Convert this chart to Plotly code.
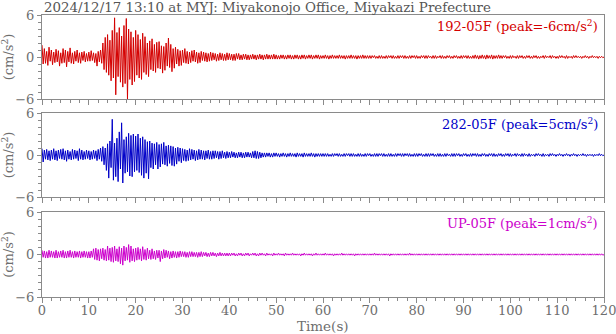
import numpy as np
import plotly.graph_objects as go

# Strong-motion record, MYJ station, 2024/12/17 13:10
# Acceleration (cm/s^2) sampled as alternating extrema every DT seconds
DT = 0.25

acc_192 = [
    1.7,-1.0,1.2,-0.9, 0.8,-1.2,1.4,-0.6, 1.0,-1.1,0.7,-0.8, 1.1,-0.7,0.9,-1.3, 0.6,-0.9,1.2,-0.8,
    1.0,-1.4,0.8,-0.7, 1.3,-0.9,0.6,-1.0, 0.8,-0.6,1.0,-0.8, 0.6,-0.9,0.7,-0.5, 0.8,-0.7,0.5,-0.6,
    0.7,-0.6,0.9,-0.5, 0.6,-0.8,0.5,-1.3, 0.8,-0.7,1.0,-0.9, 2.0,-1.8,2.8,-2.2, 3.2,-2.6,2.4,-3.4,
    3.8,-3.0,5.6,-5.4, 3.5,-2.8,4.2,-3.6, 3.0,-4.3,4.5,-3.8, 5.5,-6.0,4.0,-3.2, 3.6,-4.0,2.8,-3.5,
    3.8,-2.6,3.2,-3.0, 2.5,-3.2,3.4,-2.2, 2.9,-2.5,2.0,-2.8, 2.3,-1.8,2.6,-2.0, 1.8,-2.2,2.1,-1.6,
    2.2,-1.7,1.6,-2.3, 1.5,-1.9,2.0,-1.3, 2.7,-1.5,1.8,-2.1, 1.2,-1.6,1.4,-1.0, 1.1,-1.3,0.9,-1.2,
    1.0,-0.8,1.2,-0.9, 0.8,-1.0,0.7,-0.8, 0.9,-0.6,1.0,-0.7, 0.7,-0.9,0.6,-0.8, 0.8,-0.5,0.7,-0.6,
    0.6,-0.7,0.5,-0.6, 0.7,-0.5,0.6,-0.4, 0.5,-0.6,0.4,-0.5, 0.6,-0.4,0.5,-0.5, 0.4,-0.5,0.6,-0.4,
    0.5,-0.4,0.4,-0.5, 0.4,-0.5,0.5,-0.3, 0.5,-0.4,0.3,-0.4, 0.4,-0.3,0.4,-0.4, 0.3,-0.4,0.3,-0.3,
    0.4,-0.3,0.3,-0.4, 0.3,-0.3,0.4,-0.3, 0.3,-0.4,0.3,-0.3, 0.4,-0.3,0.3,-0.3, 0.3,-0.3,0.4,-0.3,
    0.3,-0.3,0.2,-0.3, 0.3,-0.2,0.3,-0.3, 0.2,-0.3,0.3,-0.2, 0.3,-0.3,0.2,-0.3, 0.3,-0.2,0.3,-0.3,
    0.2,-0.3,0.3,-0.2, 0.3,-0.3,0.2,-0.2, 0.3,-0.2,0.3,-0.3, 0.2,-0.2,0.3,-0.2, 0.3,-0.3,0.2,-0.2,
    0.2,-0.2,0.3,-0.2, 0.2,-0.3,0.2,-0.2, 0.3,-0.2,0.2,-0.2, 0.2,-0.2,0.3,-0.2, 0.2,-0.2,0.2,-0.3,
    0.2,-0.2,0.2,-0.2, 0.3,-0.2,0.2,-0.2, 0.2,-0.3,0.2,-0.2, 0.2,-0.2,0.3,-0.2, 0.2,-0.2,0.2,-0.2,
    0.2,-0.2,0.2,-0.1, 0.2,-0.2,0.1,-0.2, 0.2,-0.2,0.2,-0.2, 0.1,-0.2,0.2,-0.2, 0.2,-0.1,0.2,-0.2,
    0.2,-0.2,0.1,-0.2, 0.2,-0.2,0.2,-0.1, 0.2,-0.2,0.2,-0.2, 0.1,-0.2,0.2,-0.2, 0.2,-0.1,0.2,-0.2,
    0.2,-0.2,0.1,-0.2, 0.2,-0.1,0.2,-0.2, 0.2,-0.2,0.2,-0.1, 0.1,-0.2,0.2,-0.2, 0.2,-0.2,0.1,-0.1,
    0.2,-0.2,0.2,-0.2, 0.1,-0.2,0.2,-0.1, 0.2,-0.2,0.1,-0.2, 0.2,-0.1,0.2,-0.2, 0.1,-0.2,0.2,-0.2,
    0.2,-0.1,0.2,-0.2, 0.2,-0.2,0.1,-0.2, 0.2,-0.2,0.3,-0.2, 0.2,-0.3,0.2,-0.2, 0.3,-0.2,0.2,-0.3,
    0.3,-0.2,0.2,-0.2, 0.3,-0.3,0.2,-0.2, 0.2,-0.2,0.3,-0.2, 0.2,-0.2,0.2,-0.1, 0.2,-0.2,0.1,-0.2,
    0.2,-0.2,0.2,-0.1, 0.1,-0.2,0.2,-0.2, 0.2,-0.1,0.2,-0.2, 0.1,-0.2,0.2,-0.1, 0.2,-0.2,0.1,-0.2,
    0.2,-0.1,0.2,-0.2, 0.1,-0.2,0.1,-0.1, 0.2,-0.2,0.2,-0.1, 0.1,-0.1,0.2,-0.2, 0.2,-0.1,0.1,-0.2,
    0.1,-0.2,0.2,-0.1, 0.2,-0.1,0.1,-0.2, 0.2,-0.2,0.1,-0.1, 0.1,-0.2,0.2,-0.1, 0.2,-0.1,0.1,-0.1,
    0.1,-0.2,0.1,-0.1, 0.2,-0.1,0.1,-0.2, 0.1,-0.1,0.2,-0.1, 0.1,-0.1,0.1,-0.2, 0.1,-0.1,0.1,-0.1,
    0.0,
]

acc_282 = [
    0.9,-1.0,0.7,-0.6, 0.8,-0.7,0.6,-0.8, 0.7,-0.6,0.9,-0.7, 0.6,-0.8,0.7,-0.5, 0.8,-0.6,0.9,-0.7,
    0.6,-0.9,0.7,-0.6, 0.5,-0.7,0.8,-0.6, 0.7,-0.5,0.6,-0.8, 0.9,-0.6,0.7,-0.7, 0.5,-0.6,0.7,-0.5,
    0.6,-0.7,0.5,-0.6, 0.7,-0.5,0.6,-0.8, 0.8,-0.6,1.0,-0.9, 1.2,-1.4,1.0,-2.2, 1.6,-3.3,2.0,-1.8,
    5.1,-3.6,1.7,-3.1, 2.4,-3.8,3.3,-2.0, 4.6,-4.0,2.2,-2.6, 2.6,-2.4,3.1,-3.0, 2.8,-3.1,3.0,-2.4,
    2.7,-2.2,3.0,-2.5, 2.4,-2.9,2.6,-3.3, 2.2,-2.6,1.9,-3.4, 2.0,-1.8,1.7,-2.0, 1.6,-1.4,1.8,-2.0,
    1.5,-1.7,1.6,-1.3, 1.8,-1.4,1.3,-1.6, 1.4,-1.2,1.3,-1.5, 1.2,-1.6,1.0,-1.3, 1.1,-0.9,1.0,-1.1,
    0.9,-0.8,0.8,-0.9, 0.7,-0.8,0.9,-0.7, 0.8,-0.6,0.7,-0.8, 0.6,-0.7,0.8,-0.6, 0.7,-0.6,0.6,-0.7,
    0.6,-0.5,0.7,-0.6, 0.5,-0.6,0.6,-0.5, 0.6,-0.4,0.5,-0.6, 0.5,-0.5,0.6,-0.4, 0.4,-0.5,0.5,-0.4,
    0.4,-0.4,0.5,-0.3, 0.4,-0.4,0.3,-0.4, 0.4,-0.3,0.4,-0.4, 0.3,-0.4,0.4,-0.3, 0.4,-0.3,0.3,-0.4,
    0.5,-0.4,0.6,-0.5, 0.5,-0.5,0.4,-0.4, 0.3,-0.3,0.3,-0.3, 0.3,-0.2,0.3,-0.3, 0.2,-0.3,0.3,-0.2,
    0.3,-0.2,0.2,-0.3, 0.2,-0.2,0.3,-0.2, 0.2,-0.3,0.2,-0.2, 0.3,-0.2,0.2,-0.2, 0.2,-0.3,0.3,-0.2,
    0.2,-0.2,0.2,-0.3, 0.3,-0.2,0.2,-0.2, 0.2,-0.2,0.3,-0.2, 0.2,-0.3,0.2,-0.2, 0.2,-0.2,0.2,-0.2,
    0.2,-0.2,0.2,-0.2, 0.2,-0.2,0.1,-0.2, 0.2,-0.2,0.2,-0.1, 0.2,-0.2,0.2,-0.2, 0.1,-0.2,0.2,-0.2,
    0.2,-0.1,0.2,-0.2, 0.2,-0.2,0.2,-0.2, 0.1,-0.2,0.2,-0.2, 0.2,-0.2,0.1,-0.2, 0.2,-0.2,0.2,-0.1,
    0.2,-0.2,0.1,-0.2, 0.2,-0.2,0.2,-0.2, 0.2,-0.1,0.2,-0.2, 0.2,-0.2,0.1,-0.2, 0.2,-0.2,0.2,-0.2,
    0.1,-0.2,0.2,-0.2, 0.2,-0.1,0.2,-0.2, 0.2,-0.2,0.2,-0.1, 0.2,-0.2,0.2,-0.2, 0.1,-0.2,0.2,-0.2,
    0.2,-0.2,0.2,-0.1, 0.2,-0.2,0.1,-0.2, 0.2,-0.2,0.2,-0.2, 0.2,-0.1,0.2,-0.2, 0.1,-0.2,0.2,-0.2,
    0.2,-0.2,0.1,-0.2, 0.2,-0.2,0.2,-0.1, 0.1,-0.2,0.2,-0.2, 0.2,-0.2,0.2,-0.1, 0.2,-0.2,0.1,-0.2,
    0.2,-0.1,0.2,-0.2, 0.1,-0.2,0.2,-0.2, 0.2,-0.1,0.2,-0.2, 0.2,-0.2,0.1,-0.2, 0.2,-0.1,0.2,-0.2,
    0.1,-0.2,0.2,-0.1, 0.2,-0.2,0.2,-0.2, 0.1,-0.2,0.2,-0.1, 0.2,-0.2,0.1,-0.2, 0.2,-0.1,0.2,-0.2,
    0.2,-0.2,0.1,-0.1, 0.2,-0.2,0.2,-0.1, 0.1,-0.2,0.2,-0.2, 0.2,-0.1,0.1,-0.2, 0.2,-0.2,0.1,-0.1,
    0.1,-0.2,0.2,-0.1, 0.2,-0.1,0.1,-0.2, 0.2,-0.2,0.1,-0.1, 0.1,-0.2,0.2,-0.1, 0.2,-0.1,0.1,-0.2,
    0.1,-0.1,0.2,-0.1, 0.1,-0.2,0.1,-0.1, 0.2,-0.1,0.1,-0.2, 0.1,-0.1,0.2,-0.1, 0.1,-0.2,0.1,-0.1,
    0.1,-0.1,0.2,-0.1, 0.1,-0.2,0.1,-0.1, 0.1,-0.1,0.1,-0.2, 0.1,-0.1,0.1,-0.1, 0.2,-0.1,0.1,-0.1,
    0.0,
]

acc_up = [
    0.6,-0.4,0.5,-0.5, 0.4,-0.5,0.6,-0.4, 0.5,-0.4,0.4,-0.5, 0.6,-0.5,0.4,-0.4, 0.5,-0.4,0.6,-0.5,
    0.4,-0.5,0.5,-0.4, 0.6,-0.4,0.4,-0.5, 0.5,-0.4,0.4,-0.4, 0.5,-0.5,0.4,-0.4, 0.5,-0.4,0.4,-0.5,
    0.4,-0.5,0.5,-0.4, 0.8,-0.7,0.9,-0.8, 0.7,-0.9,0.8,-0.6, 0.9,-0.8,0.7,-0.9, 1.2,-0.8,0.9,-1.0,
    1.0,-1.1,1.2,-0.9, 0.8,-1.0,1.1,-1.3, 0.9,-1.5,1.2,-0.9, 1.0,-0.8,1.4,-1.1, 1.2,-0.9,0.8,-1.0,
    0.9,-0.8,1.0,-0.7, 0.8,-0.9,1.1,-0.7, 0.7,-0.8,0.9,-0.6, 0.6,-0.7,0.8,-0.6, 0.5,-0.7,0.6,-0.5,
    0.6,-1.0,0.5,-0.6, 0.7,-0.5,0.6,-0.4, 0.5,-0.6,0.4,-0.5, 0.5,-0.4,0.4,-0.5, 0.4,-0.4,0.5,-0.3,
    0.4,-0.3,0.4,-0.4, 0.3,-0.4,0.4,-0.3, 0.4,-0.3,0.3,-0.3, 0.3,-0.4,0.3,-0.3, 0.4,-0.3,0.3,-0.2,
    0.3,-0.3,0.2,-0.3, 0.3,-0.2,0.3,-0.2, 0.2,-0.3,0.2,-0.2, 0.3,-0.2,0.2,-0.2, 0.2,-0.2,0.2,-0.2,
    0.2,-0.2,0.2,-0.1, 0.2,-0.2,0.1,-0.2, 0.2,-0.1,0.2,-0.2, 0.1,-0.2,0.2,-0.1, 0.2,-0.2,0.1,-0.1,
    0.2,-0.1,0.2,-0.2, 0.1,-0.2,0.2,-0.1, 0.2,-0.1,0.1,-0.2, 0.2,-0.1,0.1,-0.1, 0.1,-0.2,0.2,-0.1,
    0.1,-0.1,0.2,-0.1, 0.1,-0.1,0.1,-0.2, 0.2,-0.1,0.1,-0.1, 0.1,-0.1,0.2,-0.1, 0.1,-0.1,0.1,-0.1,
    0.1,-0.2,0.1,-0.1, 0.2,-0.1,0.1,-0.1, 0.1,-0.1,0.1,-0.2, 0.1,-0.1,0.2,-0.1, 0.1,-0.1,0.1,-0.1,
    0.1,-0.1,0.2,-0.1, 0.1,-0.1,0.1,-0.1, 0.1,-0.2,0.1,-0.1, 0.1,-0.1,0.1,-0.1, 0.2,-0.1,0.1,-0.1,
    0.1,-0.1,0.1,-0.1, 0.1,-0.1,0.1,-0.2, 0.1,-0.1,0.1,-0.1, 0.1,-0.1,0.1,-0.1, 0.1,-0.1,0.1,-0.1,
    0.1,-0.1,0.1,-0.1, 0.2,-0.1,0.1,-0.1, 0.1,-0.1,0.1,-0.1, 0.1,-0.1,0.1,-0.1, 0.1,-0.2,0.1,-0.1,
    0.1,-0.1,0.1,-0.1, 0.1,-0.1,0.1,-0.1, 0.1,-0.1,0.1,-0.1, 0.1,-0.1,0.2,-0.1, 0.1,-0.1,0.1,-0.1,
    0.1,-0.1,0.1,-0.1, 0.1,-0.1,0.1,-0.1, 0.1,-0.1,0.1,-0.1, 0.1,-0.1,0.1,-0.1, 0.1,-0.1,0.1,-0.1,
    0.1,-0.1,0.1,-0.1, 0.1,-0.1,0.1,-0.1, 0.1,-0.1,0.1,-0.1, 0.1,-0.1,0.1,-0.1, 0.1,-0.1,0.1,-0.1,
    0.1,-0.1,0.1,-0.1, 0.1,-0.1,0.1,-0.1, 0.1,-0.1,0.1,-0.1, 0.1,-0.1,0.1,-0.1, 0.1,-0.1,0.1,-0.1,
    0.1,-0.1,0.1,-0.1, 0.1,-0.1,0.1,-0.1, 0.1,-0.1,0.1,-0.1, 0.1,-0.1,0.1,-0.1, 0.1,-0.1,0.1,-0.1,
    0.1,-0.1,0.1,-0.1, 0.1,-0.1,0.1,-0.1, 0.1,-0.1,0.1,-0.1, 0.1,-0.1,0.1,-0.1, 0.1,-0.1,0.1,-0.1,
    0.1,-0.1,0.1,-0.1, 0.1,-0.1,0.1,-0.1, 0.1,-0.1,0.1,-0.1, 0.1,-0.1,0.1,-0.1, 0.1,-0.1,0.1,-0.1,
    0.1,-0.1,0.1,-0.1, 0.1,-0.1,0.1,-0.1, 0.1,-0.1,0.1,-0.1, 0.1,-0.1,0.1,-0.1, 0.1,-0.1,0.1,-0.1,
    0.1,-0.1,0.1,-0.1, 0.1,-0.1,0.1,-0.1, 0.1,-0.1,0.1,-0.1, 0.1,-0.1,0.1,-0.1, 0.1,-0.1,0.1,-0.1,
    0.0,
]

components = ["192-05F", "282-05F", "UP-05F"]
peaks = [-6, 5, 1]
colors = ["#d40000", "#0000c8", "#cc00cc"]
series = [acc_192, acc_282, acc_up]

title_text = "2024/12/17 13:10 at MYJ: Miyakonojo Office, Miyakazi Prefecture"
x_label = "Time(s)"
y_label = "(cm/s<sup>2</sup>)"
x_ticks = [0, 10, 20, 30, 40, 50, 60, 70, 80, 90, 100, 110, 120]
y_ticks = [-6, 0, 6]

FONT = "DejaVu Serif"
AXIS_GREY = "#8a8a8a"
TEXT_GREY = "#6e6e6e"

W, H = 616, 334
M_L, M_R, M_T, M_B = 42, 12, 15, 37
plot_h = H - M_T - M_B
# panel boxes in pixels from the top of the page
panels_px = [(15, 99), (113, 197), (212, 297)]
domains = [[(H - M_B - b) / plot_h, (H - M_B - t) / plot_h] for t, b in panels_px]

fig = go.Figure()
layout = {}
for i, (vals, col) in enumerate(zip(series, colors)):
    n = i + 1
    sfx = "" if n == 1 else str(n)
    t = np.arange(len(vals)) * DT
    fig.add_trace(go.Scatter(
        x=t, y=vals, mode="lines",
        line=dict(color=col, width=1),
        xaxis="x" + sfx, yaxis="y" + sfx,
        showlegend=False, hoverinfo="skip",
    ))
    last = n == 3
    layout["xaxis" + sfx] = dict(
        domain=[0, 1], anchor="y" + sfx, range=[0, 120], automargin=False,
        tickvals=x_ticks, showticklabels=last,
        ticks="outside", ticklen=5, tickwidth=1, tickcolor=AXIS_GREY,
        minor=dict(dtick=2, tick0=0, ticks="outside", ticklen=3, tickcolor=AXIS_GREY),
        showline=True, linecolor=AXIS_GREY, linewidth=1, mirror=True,
        showgrid=False, zeroline=False,
        ticklabeloverflow="allow", ticklabelstandoff=-4,
        tickfont=dict(family=FONT, size=13, color=TEXT_GREY),
    )
    layout["yaxis" + sfx] = dict(
        domain=domains[i], anchor="x" + sfx, range=[-6, 6], automargin=False,
        tickvals=y_ticks,
        ticks="outside", ticklen=4, tickwidth=1, tickcolor=AXIS_GREY,
        minor=dict(dtick=1, tick0=0, ticks="outside", ticklen=3, tickcolor=AXIS_GREY),
        showline=True, linecolor=AXIS_GREY, linewidth=1, mirror=True,
        showgrid=False, zeroline=False,
        ticklabeloverflow="allow",
        tickfont=dict(family=FONT, size=13, color=TEXT_GREY),
        title=dict(text=y_label, standoff=2,
                   font=dict(family=FONT, size=13, color=TEXT_GREY)),
    )

annotations = [
    dict(
        text=title_text, xref="paper", yref="paper", x=0, y=1,
        xanchor="left", yanchor="middle", yshift=8, showarrow=False,
        font=dict(family=FONT, size=13.4, color="#555555"),
    ),
    dict(
        text=x_label, xref="paper", yref="paper", x=0.5, y=(H - M_B - 326) / plot_h,
        xanchor="center", yanchor="middle", showarrow=False,
        font=dict(family=FONT, size=13.5, color=TEXT_GREY),
    ),
]
for i, (comp, pk, col) in enumerate(zip(components, peaks, colors)):
    annotations.append(dict(
        text=f"{comp} (peak={pk}cm/s<sup>2</sup>)",
        xref="paper", yref="paper", x=1, y=domains[i][1],
        xanchor="right", yanchor="top", xshift=-4, yshift=-1, showarrow=False,
        font=dict(family=FONT, size=13, color=col),
    ))

fig.update_layout(
    width=W, height=H,
    margin=dict(l=M_L, r=M_R, t=M_T, b=M_B, autoexpand=False),
    paper_bgcolor="white", plot_bgcolor="white",
    annotations=annotations,
    **layout,
)

fig.write_html("out.html")
